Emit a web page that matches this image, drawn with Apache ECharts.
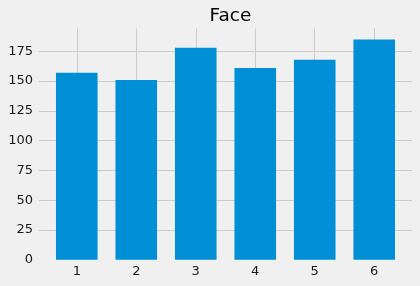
<!DOCTYPE html>
<html>
<head>
<meta charset="utf-8">
<script src="https://cdn.jsdelivr.net/npm/echarts@6/dist/echarts.min.js"></script>
<style>
html,body{margin:0;padding:0;background:#f0f0f0;}
#c{width:420px;height:286px;}
</style>
</head>
<body>
<div id="c"></div>
<script>
const categories = [1, 2, 3, 4, 5, 6];
const counts = [157, 151, 178, 161, 168, 185];
const yTicks = [0, 25, 50, 75, 100, 125, 150, 175];
const titleText = 'Face';

const chart = echarts.init(document.getElementById('c'), null, {renderer: 'canvas'});
const font = 'DejaVu Sans';
chart.setOption({
  backgroundColor: '#f0f0f0',
  animation: false,
  title: {
    text: titleText,
    left: 225.5, textAlign: 'center', top: 2,
    textStyle: {fontFamily: font, fontSize: 18.5, fontWeight: 'normal', color: '#000'}
  },
  grid: {left: 39, right: 8, top: 28.4, bottom: 26.3, containLabel: false},
  xAxis: {
    type: 'value',
    min: 0.365, max: 6.635,
    axisLine: {show: false},
    axisTick: {show: false, customValues: categories},
    axisLabel: {customValues: categories, fontFamily: font, fontSize: 13, color: '#1a1a1a', margin: 5},
    splitLine: {show: true, lineStyle: {color: '#cbcbcb', width: 1}}
  },
  yAxis: {
    type: 'value',
    min: 0, max: 194.25,
    axisLine: {show: false},
    axisTick: {show: false, customValues: yTicks},
    axisLabel: {customValues: yTicks, fontFamily: font, fontSize: 13, color: '#1a1a1a', margin: 6},
    splitLine: {show: true, showMinLine: false, lineStyle: {color: '#cbcbcb', width: 1}}
  },
  series: [{
    type: 'bar',
    data: categories.map((c, i) => [c, counts[i]]),
    barWidth: 41.6,
    itemStyle: {color: '#008fd5'}
  }]
});
</script>
</body>
</html>
